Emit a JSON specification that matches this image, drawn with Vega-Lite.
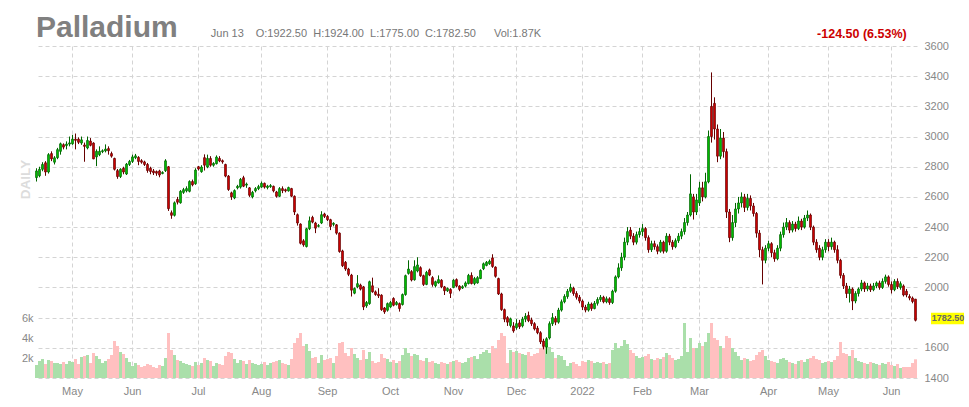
{
"$schema":"https://vega.github.io/schema/vega-lite/v6.json",
"width":882,"height":332,"autosize":"none",
"padding":{"left":35,"top":46,"right":52,"bottom":29},
"background":"#ffffff",
"config":{"view":{"stroke":null},"font":"Liberation Sans",
"axis":{"domain":false,"ticks":false,"labelFont":"Liberation Sans","labelFontSize":11,"labelColor":"#888888","gridColor":"#d4d4d4","gridDash":[4,3]}},
"data":{"values":[
{"d":"2021-04-15","o":2728,"h":2790,"l":2702,"c":2772,"v":1300},
{"d":"2021-04-16","o":2740,"h":2800,"l":2730,"c":2783,"v":1700},
{"d":"2021-04-19","o":2783,"h":2830,"l":2770,"c":2815,"v":1900},
{"d":"2021-04-20","o":2826,"h":2837,"l":2740,"c":2765,"v":1400},
{"d":"2021-04-21","o":2765,"h":2890,"l":2755,"c":2880,"v":1800},
{"d":"2021-04-22","o":2887,"h":2902,"l":2837,"c":2852,"v":1700},
{"d":"2021-04-23","o":2830,"h":2870,"l":2815,"c":2859,"v":1500},
{"d":"2021-04-26","o":2860,"h":2925,"l":2850,"c":2913,"v":1500},
{"d":"2021-04-27","o":2902,"h":2960,"l":2880,"c":2952,"v":1400},
{"d":"2021-04-28","o":2946,"h":2955,"l":2915,"c":2930,"v":1600},
{"d":"2021-04-29","o":2940,"h":2968,"l":2915,"c":2950,"v":1400},
{"d":"2021-04-30","o":2950,"h":3000,"l":2935,"c":2958,"v":1700},
{"d":"2021-05-03","o":2952,"h":3011,"l":2945,"c":2983,"v":1600},
{"d":"2021-05-04","o":2983,"h":3020,"l":2915,"c":2975,"v":1900},
{"d":"2021-05-05","o":2983,"h":2995,"l":2950,"c":2962,"v":1400},
{"d":"2021-05-06","o":2957,"h":3000,"l":2945,"c":2978,"v":2100},
{"d":"2021-05-07","o":2944,"h":2960,"l":2833,"c":2935,"v":2200},
{"d":"2021-05-10","o":2924,"h":3000,"l":2915,"c":2974,"v":2300},
{"d":"2021-05-11","o":2970,"h":2990,"l":2935,"c":2942,"v":1500},
{"d":"2021-05-12","o":2957,"h":2962,"l":2850,"c":2852,"v":2500},
{"d":"2021-05-13","o":2865,"h":2915,"l":2804,"c":2902,"v":2200},
{"d":"2021-05-14","o":2880,"h":2935,"l":2870,"c":2902,"v":1900},
{"d":"2021-05-17","o":2900,"h":2915,"l":2890,"c":2906,"v":1500},
{"d":"2021-05-18","o":2905,"h":2948,"l":2895,"c":2917,"v":1700},
{"d":"2021-05-19","o":2920,"h":2935,"l":2880,"c":2906,"v":1900},
{"d":"2021-05-20","o":2887,"h":2900,"l":2860,"c":2870,"v":2300},
{"d":"2021-05-21","o":2855,"h":2860,"l":2775,"c":2783,"v":3700},
{"d":"2021-05-24","o":2774,"h":2785,"l":2720,"c":2735,"v":3200},
{"d":"2021-05-25","o":2735,"h":2790,"l":2725,"c":2783,"v":2600},
{"d":"2021-05-26","o":2790,"h":2800,"l":2750,"c":2765,"v":2400},
{"d":"2021-05-27","o":2752,"h":2825,"l":2745,"c":2817,"v":2000},
{"d":"2021-05-28","o":2815,"h":2845,"l":2805,"c":2835,"v":1600},
{"d":"2021-06-01","o":2835,"h":2880,"l":2825,"c":2865,"v":1200},
{"d":"2021-06-02","o":2860,"h":2885,"l":2850,"c":2872,"v":1500},
{"d":"2021-06-03","o":2862,"h":2870,"l":2810,"c":2835,"v":1300},
{"d":"2021-06-04","o":2840,"h":2850,"l":2820,"c":2830,"v":1100},
{"d":"2021-06-07","o":2832,"h":2840,"l":2805,"c":2815,"v":1200},
{"d":"2021-06-08","o":2815,"h":2825,"l":2760,"c":2775,"v":1400},
{"d":"2021-06-09","o":2790,"h":2800,"l":2750,"c":2768,"v":1300},
{"d":"2021-06-10","o":2772,"h":2785,"l":2745,"c":2760,"v":1100},
{"d":"2021-06-11","o":2768,"h":2775,"l":2740,"c":2757,"v":1000},
{"d":"2021-06-14","o":2772,"h":2780,"l":2730,"c":2745,"v":1300},
{"d":"2021-06-15","o":2755,"h":2770,"l":2750,"c":2762,"v":1200},
{"d":"2021-06-16","o":2774,"h":2850,"l":2765,"c":2839,"v":2000},
{"d":"2021-06-17","o":2800,"h":2805,"l":2507,"c":2522,"v":4500},
{"d":"2021-06-18","o":2495,"h":2510,"l":2455,"c":2478,"v":2800},
{"d":"2021-06-21","o":2478,"h":2570,"l":2470,"c":2561,"v":2300},
{"d":"2021-06-22","o":2583,"h":2600,"l":2550,"c":2565,"v":1800},
{"d":"2021-06-23","o":2561,"h":2645,"l":2555,"c":2637,"v":1700},
{"d":"2021-06-24","o":2630,"h":2660,"l":2620,"c":2648,"v":1500},
{"d":"2021-06-25","o":2640,"h":2670,"l":2630,"c":2655,"v":1400},
{"d":"2021-06-28","o":2637,"h":2710,"l":2630,"c":2702,"v":1300},
{"d":"2021-06-29","o":2702,"h":2715,"l":2670,"c":2680,"v":1200},
{"d":"2021-06-30","o":2687,"h":2790,"l":2680,"c":2778,"v":1600},
{"d":"2021-07-01","o":2800,"h":2805,"l":2775,"c":2785,"v":1300},
{"d":"2021-07-02","o":2767,"h":2810,"l":2760,"c":2798,"v":1500},
{"d":"2021-07-06","o":2860,"h":2882,"l":2775,"c":2810,"v":2000},
{"d":"2021-07-07","o":2798,"h":2880,"l":2790,"c":2855,"v":1800},
{"d":"2021-07-08","o":2855,"h":2870,"l":2800,"c":2810,"v":1700},
{"d":"2021-07-09","o":2810,"h":2830,"l":2800,"c":2822,"v":1200},
{"d":"2021-07-12","o":2820,"h":2875,"l":2815,"c":2864,"v":1500},
{"d":"2021-07-13","o":2855,"h":2870,"l":2830,"c":2838,"v":1400},
{"d":"2021-07-14","o":2840,"h":2848,"l":2820,"c":2832,"v":1300},
{"d":"2021-07-15","o":2815,"h":2820,"l":2730,"c":2738,"v":2200},
{"d":"2021-07-16","o":2738,"h":2745,"l":2640,"c":2649,"v":2600},
{"d":"2021-07-19","o":2627,"h":2635,"l":2580,"c":2600,"v":2500},
{"d":"2021-07-20","o":2593,"h":2650,"l":2585,"c":2642,"v":1900},
{"d":"2021-07-21","o":2660,"h":2680,"l":2650,"c":2670,"v":1500},
{"d":"2021-07-22","o":2665,"h":2725,"l":2655,"c":2716,"v":1800},
{"d":"2021-07-23","o":2727,"h":2740,"l":2665,"c":2671,"v":1700},
{"d":"2021-07-26","o":2678,"h":2695,"l":2660,"c":2685,"v":1400},
{"d":"2021-07-27","o":2660,"h":2665,"l":2600,"c":2611,"v":1800},
{"d":"2021-07-28","o":2600,"h":2640,"l":2590,"c":2630,"v":1500},
{"d":"2021-07-29","o":2640,"h":2665,"l":2630,"c":2655,"v":1400},
{"d":"2021-07-30","o":2655,"h":2680,"l":2645,"c":2668,"v":1300},
{"d":"2021-08-02","o":2665,"h":2702,"l":2660,"c":2690,"v":1400},
{"d":"2021-08-03","o":2690,"h":2695,"l":2655,"c":2665,"v":1600},
{"d":"2021-08-04","o":2662,"h":2680,"l":2650,"c":2672,"v":1300},
{"d":"2021-08-05","o":2668,"h":2685,"l":2660,"c":2675,"v":1500},
{"d":"2021-08-06","o":2670,"h":2675,"l":2630,"c":2640,"v":1600},
{"d":"2021-08-09","o":2633,"h":2640,"l":2595,"c":2604,"v":1700},
{"d":"2021-08-10","o":2604,"h":2665,"l":2600,"c":2655,"v":1800},
{"d":"2021-08-11","o":2655,"h":2670,"l":2625,"c":2642,"v":1500},
{"d":"2021-08-12","o":2648,"h":2655,"l":2630,"c":2640,"v":1400},
{"d":"2021-08-13","o":2640,"h":2668,"l":2635,"c":2662,"v":1300},
{"d":"2021-08-16","o":2655,"h":2660,"l":2600,"c":2605,"v":1900},
{"d":"2021-08-17","o":2604,"h":2610,"l":2480,"c":2500,"v":3500},
{"d":"2021-08-18","o":2482,"h":2490,"l":2410,"c":2427,"v":4000},
{"d":"2021-08-19","o":2420,"h":2425,"l":2285,"c":2293,"v":4500},
{"d":"2021-08-20","o":2309,"h":2320,"l":2270,"c":2282,"v":3200},
{"d":"2021-08-23","o":2271,"h":2395,"l":2265,"c":2389,"v":3400},
{"d":"2021-08-24","o":2389,"h":2470,"l":2380,"c":2442,"v":2700},
{"d":"2021-08-25","o":2464,"h":2475,"l":2425,"c":2433,"v":2000},
{"d":"2021-08-26","o":2427,"h":2435,"l":2360,"c":2393,"v":2100},
{"d":"2021-08-27","o":2405,"h":2420,"l":2398,"c":2410,"v":1500},
{"d":"2021-08-30","o":2427,"h":2505,"l":2420,"c":2482,"v":2300},
{"d":"2021-08-31","o":2487,"h":2495,"l":2460,"c":2471,"v":1800},
{"d":"2021-09-01","o":2471,"h":2480,"l":2440,"c":2449,"v":1900},
{"d":"2021-09-02","o":2449,"h":2455,"l":2380,"c":2404,"v":2000},
{"d":"2021-09-03","o":2418,"h":2432,"l":2405,"c":2425,"v":1500},
{"d":"2021-09-07","o":2415,"h":2420,"l":2350,"c":2360,"v":2200},
{"d":"2021-09-08","o":2360,"h":2365,"l":2230,"c":2238,"v":3500},
{"d":"2021-09-09","o":2242,"h":2250,"l":2135,"c":2144,"v":3600},
{"d":"2021-09-10","o":2167,"h":2175,"l":2110,"c":2122,"v":2500},
{"d":"2021-09-13","o":2122,"h":2130,"l":2075,"c":2087,"v":2200},
{"d":"2021-09-14","o":2082,"h":2090,"l":1940,"c":1982,"v":3000},
{"d":"2021-09-15","o":1962,"h":2000,"l":1955,"c":1993,"v":2400},
{"d":"2021-09-16","o":2004,"h":2082,"l":1995,"c":2025,"v":2000},
{"d":"2021-09-17","o":2016,"h":2025,"l":1980,"c":1989,"v":1800},
{"d":"2021-09-20","o":2004,"h":2010,"l":1850,"c":1871,"v":2800},
{"d":"2021-09-21","o":1878,"h":1910,"l":1865,"c":1900,"v":1900},
{"d":"2021-09-22","o":1893,"h":2045,"l":1885,"c":2038,"v":2600},
{"d":"2021-09-23","o":2011,"h":2065,"l":1965,"c":1971,"v":1700},
{"d":"2021-09-24","o":1971,"h":1980,"l":1945,"c":1953,"v":1500},
{"d":"2021-09-27","o":1955,"h":1995,"l":1930,"c":1945,"v":1600},
{"d":"2021-09-28","o":1949,"h":1955,"l":1845,"c":1853,"v":2400},
{"d":"2021-09-29","o":1864,"h":1870,"l":1825,"c":1838,"v":2000},
{"d":"2021-09-30","o":1849,"h":1900,"l":1840,"c":1893,"v":1900},
{"d":"2021-10-01","o":1871,"h":1910,"l":1865,"c":1900,"v":1600},
{"d":"2021-10-04","o":1927,"h":1935,"l":1875,"c":1882,"v":1800},
{"d":"2021-10-05","o":1887,"h":1910,"l":1880,"c":1900,"v":1500},
{"d":"2021-10-06","o":1893,"h":1900,"l":1840,"c":1860,"v":1700},
{"d":"2021-10-07","o":1887,"h":1960,"l":1880,"c":1953,"v":2300},
{"d":"2021-10-08","o":1953,"h":2085,"l":1945,"c":2078,"v":3000},
{"d":"2021-10-11","o":2093,"h":2180,"l":2085,"c":2122,"v":2500},
{"d":"2021-10-12","o":2105,"h":2115,"l":2040,"c":2049,"v":2200},
{"d":"2021-10-13","o":2051,"h":2180,"l":2045,"c":2138,"v":2400},
{"d":"2021-10-14","o":2109,"h":2200,"l":2100,"c":2149,"v":2300},
{"d":"2021-10-15","o":2131,"h":2140,"l":2070,"c":2078,"v":1800},
{"d":"2021-10-18","o":2078,"h":2085,"l":2010,"c":2020,"v":1700},
{"d":"2021-10-19","o":2020,"h":2110,"l":2015,"c":2100,"v":2000},
{"d":"2021-10-20","o":2116,"h":2125,"l":2075,"c":2082,"v":1600},
{"d":"2021-10-21","o":2065,"h":2075,"l":2005,"c":2020,"v":1700},
{"d":"2021-10-22","o":2011,"h":2045,"l":2000,"c":2038,"v":1500},
{"d":"2021-10-25","o":2030,"h":2080,"l":2025,"c":2052,"v":1400},
{"d":"2021-10-26","o":2048,"h":2055,"l":1995,"c":2004,"v":1600},
{"d":"2021-10-27","o":2004,"h":2010,"l":1950,"c":1978,"v":1500},
{"d":"2021-10-28","o":1978,"h":2000,"l":1970,"c":1993,"v":1400},
{"d":"2021-10-29","o":1987,"h":1995,"l":1930,"c":1961,"v":1600},
{"d":"2021-11-01","o":2000,"h":2055,"l":1995,"c":2048,"v":1700},
{"d":"2021-11-02","o":2052,"h":2060,"l":2000,"c":2009,"v":1800},
{"d":"2021-11-03","o":2009,"h":2015,"l":1975,"c":1987,"v":1600},
{"d":"2021-11-04","o":1996,"h":2015,"l":1990,"c":2005,"v":1500},
{"d":"2021-11-05","o":2009,"h":2040,"l":2000,"c":2030,"v":1600},
{"d":"2021-11-08","o":2026,"h":2090,"l":2020,"c":2080,"v":2000},
{"d":"2021-11-09","o":2080,"h":2100,"l":2020,"c":2026,"v":2100},
{"d":"2021-11-10","o":2026,"h":2070,"l":2015,"c":2059,"v":2200},
{"d":"2021-11-11","o":2030,"h":2075,"l":2025,"c":2065,"v":1900},
{"d":"2021-11-12","o":2059,"h":2120,"l":2055,"c":2113,"v":2400},
{"d":"2021-11-15","o":2124,"h":2165,"l":2115,"c":2157,"v":2600},
{"d":"2021-11-16","o":2146,"h":2175,"l":2140,"c":2167,"v":2800},
{"d":"2021-11-17","o":2157,"h":2185,"l":2150,"c":2174,"v":2500},
{"d":"2021-11-18","o":2196,"h":2220,"l":2130,"c":2139,"v":3200},
{"d":"2021-11-19","o":2135,"h":2140,"l":2065,"c":2074,"v":2900},
{"d":"2021-11-22","o":2059,"h":2065,"l":1950,"c":1957,"v":3800},
{"d":"2021-11-23","o":1957,"h":1965,"l":1845,"c":1853,"v":4500},
{"d":"2021-11-24","o":1853,"h":1860,"l":1770,"c":1790,"v":4200},
{"d":"2021-11-26","o":1800,"h":1810,"l":1745,"c":1770,"v":1500},
{"d":"2021-11-29","o":1748,"h":1800,"l":1735,"c":1792,"v":2800},
{"d":"2021-11-30","o":1745,"h":1770,"l":1700,"c":1712,"v":2600},
{"d":"2021-12-01","o":1733,"h":1790,"l":1720,"c":1760,"v":2700},
{"d":"2021-12-02","o":1765,"h":1785,"l":1725,"c":1740,"v":2500},
{"d":"2021-12-03","o":1745,"h":1805,"l":1735,"c":1790,"v":2400},
{"d":"2021-12-06","o":1790,"h":1830,"l":1770,"c":1810,"v":2300},
{"d":"2021-12-07","o":1815,"h":1840,"l":1770,"c":1780,"v":2600},
{"d":"2021-12-08","o":1785,"h":1800,"l":1745,"c":1760,"v":2200},
{"d":"2021-12-09","o":1760,"h":1770,"l":1715,"c":1725,"v":2400},
{"d":"2021-12-10","o":1730,"h":1745,"l":1690,"c":1700,"v":2500},
{"d":"2021-12-13","o":1700,"h":1710,"l":1625,"c":1640,"v":3000},
{"d":"2021-12-14","o":1645,"h":1660,"l":1590,"c":1610,"v":3200},
{"d":"2021-12-15","o":1605,"h":1670,"l":1560,"c":1660,"v":3500},
{"d":"2021-12-16","o":1665,"h":1775,"l":1655,"c":1760,"v":3100},
{"d":"2021-12-17","o":1760,"h":1830,"l":1745,"c":1800,"v":2600},
{"d":"2021-12-20","o":1795,"h":1810,"l":1750,"c":1770,"v":2000},
{"d":"2021-12-21","o":1770,"h":1865,"l":1760,"c":1850,"v":2300},
{"d":"2021-12-22","o":1850,"h":1920,"l":1840,"c":1905,"v":2200},
{"d":"2021-12-23","o":1905,"h":1955,"l":1895,"c":1940,"v":1800},
{"d":"2021-12-27","o":1940,"h":1990,"l":1925,"c":1975,"v":1200},
{"d":"2021-12-28","o":1975,"h":2025,"l":1965,"c":2000,"v":1500},
{"d":"2021-12-29","o":1995,"h":2005,"l":1945,"c":1960,"v":1600},
{"d":"2021-12-30","o":1960,"h":1975,"l":1920,"c":1935,"v":1400},
{"d":"2021-12-31","o":1935,"h":1950,"l":1895,"c":1910,"v":1200},
{"d":"2022-01-03","o":1910,"h":1920,"l":1850,"c":1870,"v":1700},
{"d":"2022-01-04","o":1870,"h":1885,"l":1835,"c":1850,"v":1600},
{"d":"2022-01-05","o":1850,"h":1905,"l":1840,"c":1890,"v":1800},
{"d":"2022-01-06","o":1890,"h":1900,"l":1845,"c":1860,"v":1700},
{"d":"2022-01-07","o":1860,"h":1910,"l":1855,"c":1895,"v":1500},
{"d":"2022-01-10","o":1895,"h":1935,"l":1880,"c":1920,"v":1600},
{"d":"2022-01-11","o":1920,"h":1950,"l":1905,"c":1935,"v":1500},
{"d":"2022-01-12","o":1935,"h":1945,"l":1895,"c":1905,"v":1600},
{"d":"2022-01-13","o":1905,"h":1940,"l":1895,"c":1925,"v":1400},
{"d":"2022-01-14","o":1925,"h":1935,"l":1885,"c":1900,"v":1500},
{"d":"2022-01-18","o":1900,"h":1985,"l":1890,"c":1975,"v":2800},
{"d":"2022-01-19","o":1975,"h":2080,"l":1965,"c":2070,"v":3500},
{"d":"2022-01-20","o":2070,"h":2160,"l":2060,"c":2130,"v":3000},
{"d":"2022-01-21","o":2130,"h":2230,"l":2110,"c":2200,"v":3200},
{"d":"2022-01-24","o":2200,"h":2330,"l":2180,"c":2300,"v":3800},
{"d":"2022-01-25","o":2300,"h":2400,"l":2280,"c":2370,"v":3400},
{"d":"2022-01-26","o":2380,"h":2400,"l":2320,"c":2340,"v":2800},
{"d":"2022-01-27","o":2340,"h":2360,"l":2280,"c":2300,"v":2500},
{"d":"2022-01-28","o":2300,"h":2370,"l":2285,"c":2350,"v":2200},
{"d":"2022-01-31","o":2350,"h":2395,"l":2330,"c":2370,"v":2000},
{"d":"2022-02-01","o":2370,"h":2420,"l":2340,"c":2390,"v":2100},
{"d":"2022-02-02","o":2390,"h":2400,"l":2310,"c":2330,"v":2200},
{"d":"2022-02-03","o":2330,"h":2345,"l":2230,"c":2250,"v":2400},
{"d":"2022-02-04","o":2250,"h":2310,"l":2235,"c":2290,"v":1900},
{"d":"2022-02-07","o":2290,"h":2310,"l":2250,"c":2270,"v":1800},
{"d":"2022-02-08","o":2270,"h":2285,"l":2220,"c":2240,"v":2000},
{"d":"2022-02-09","o":2240,"h":2315,"l":2230,"c":2300,"v":1900},
{"d":"2022-02-10","o":2300,"h":2310,"l":2225,"c":2240,"v":2100},
{"d":"2022-02-11","o":2240,"h":2360,"l":2230,"c":2340,"v":2500},
{"d":"2022-02-14","o":2340,"h":2355,"l":2280,"c":2300,"v":2300},
{"d":"2022-02-15","o":2300,"h":2315,"l":2250,"c":2270,"v":2000},
{"d":"2022-02-16","o":2270,"h":2325,"l":2260,"c":2310,"v":1800},
{"d":"2022-02-17","o":2310,"h":2360,"l":2295,"c":2340,"v":1900},
{"d":"2022-02-18","o":2340,"h":2390,"l":2320,"c":2370,"v":2200},
{"d":"2022-02-22","o":2370,"h":2460,"l":2350,"c":2430,"v":5500},
{"d":"2022-02-23","o":2430,"h":2500,"l":2410,"c":2480,"v":2600},
{"d":"2022-02-24","o":2480,"h":2750,"l":2470,"c":2620,"v":4000},
{"d":"2022-02-25","o":2600,"h":2620,"l":2450,"c":2500,"v":3000},
{"d":"2022-02-28","o":2500,"h":2620,"l":2480,"c":2580,"v":3000},
{"d":"2022-03-01","o":2560,"h":2700,"l":2540,"c":2660,"v":3500},
{"d":"2022-03-02","o":2660,"h":2700,"l":2570,"c":2600,"v":3200},
{"d":"2022-03-03","o":2600,"h":2760,"l":2590,"c":2700,"v":3600},
{"d":"2022-03-04","o":2700,"h":3040,"l":2690,"c":3000,"v":4500},
{"d":"2022-03-07","o":3200,"h":3425,"l":2960,"c":3000,"v":5500},
{"d":"2022-03-08","o":3220,"h":3260,"l":2980,"c":3050,"v":4000},
{"d":"2022-03-09","o":3050,"h":3080,"l":2830,"c":2870,"v":3800},
{"d":"2022-03-10","o":2870,"h":3050,"l":2850,"c":2990,"v":3200},
{"d":"2022-03-11","o":2990,"h":3030,"l":2860,"c":2900,"v":3000},
{"d":"2022-03-14","o":2900,"h":2920,"l":2460,"c":2500,"v":4200},
{"d":"2022-03-15","o":2500,"h":2520,"l":2300,"c":2330,"v":4000},
{"d":"2022-03-16","o":2330,"h":2480,"l":2310,"c":2430,"v":3000},
{"d":"2022-03-17","o":2430,"h":2560,"l":2400,"c":2520,"v":2600},
{"d":"2022-03-18","o":2520,"h":2600,"l":2490,"c":2560,"v":2200},
{"d":"2022-03-21","o":2560,"h":2630,"l":2530,"c":2600,"v":1800},
{"d":"2022-03-22","o":2600,"h":2620,"l":2500,"c":2530,"v":2000},
{"d":"2022-03-23","o":2530,"h":2620,"l":2510,"c":2590,"v":1900},
{"d":"2022-03-24","o":2590,"h":2610,"l":2510,"c":2540,"v":1700},
{"d":"2022-03-25","o":2540,"h":2560,"l":2470,"c":2490,"v":1800},
{"d":"2022-03-28","o":2490,"h":2500,"l":2330,"c":2360,"v":2300},
{"d":"2022-03-29","o":2360,"h":2380,"l":2200,"c":2250,"v":2600},
{"d":"2022-03-30","o":2250,"h":2270,"l":2020,"c":2180,"v":2800},
{"d":"2022-03-31","o":2180,"h":2280,"l":2160,"c":2260,"v":2200},
{"d":"2022-04-01","o":2260,"h":2310,"l":2240,"c":2290,"v":1800},
{"d":"2022-04-04","o":2290,"h":2300,"l":2200,"c":2230,"v":1700},
{"d":"2022-04-05","o":2230,"h":2250,"l":2170,"c":2190,"v":1600},
{"d":"2022-04-06","o":2190,"h":2280,"l":2180,"c":2260,"v":1500},
{"d":"2022-04-07","o":2260,"h":2370,"l":2240,"c":2350,"v":1900},
{"d":"2022-04-08","o":2350,"h":2430,"l":2330,"c":2400,"v":2000},
{"d":"2022-04-11","o":2400,"h":2460,"l":2380,"c":2430,"v":1800},
{"d":"2022-04-12","o":2430,"h":2445,"l":2360,"c":2380,"v":1600},
{"d":"2022-04-13","o":2380,"h":2440,"l":2365,"c":2420,"v":1500},
{"d":"2022-04-14","o":2420,"h":2435,"l":2370,"c":2390,"v":1400},
{"d":"2022-04-18","o":2390,"h":2470,"l":2380,"c":2440,"v":1700},
{"d":"2022-04-19","o":2440,"h":2455,"l":2380,"c":2400,"v":1800},
{"d":"2022-04-20","o":2400,"h":2480,"l":2390,"c":2460,"v":1600},
{"d":"2022-04-21","o":2460,"h":2510,"l":2440,"c":2480,"v":1900},
{"d":"2022-04-22","o":2480,"h":2490,"l":2380,"c":2400,"v":2000},
{"d":"2022-04-25","o":2400,"h":2410,"l":2280,"c":2300,"v":2200},
{"d":"2022-04-26","o":2300,"h":2320,"l":2230,"c":2250,"v":1900},
{"d":"2022-04-27","o":2260,"h":2280,"l":2180,"c":2200,"v":1800},
{"d":"2022-04-28","o":2200,"h":2270,"l":2180,"c":2250,"v":1500},
{"d":"2022-04-29","o":2250,"h":2320,"l":2230,"c":2300,"v":1600},
{"d":"2022-05-02","o":2300,"h":2320,"l":2240,"c":2270,"v":1700},
{"d":"2022-05-03","o":2270,"h":2330,"l":2250,"c":2300,"v":1600},
{"d":"2022-05-04","o":2300,"h":2310,"l":2230,"c":2250,"v":1800},
{"d":"2022-05-05","o":2250,"h":2280,"l":2160,"c":2180,"v":2200},
{"d":"2022-05-06","o":2180,"h":2190,"l":2060,"c":2080,"v":3600},
{"d":"2022-05-09","o":2080,"h":2095,"l":1990,"c":2010,"v":2500},
{"d":"2022-05-10","o":2010,"h":2030,"l":1930,"c":1960,"v":2400},
{"d":"2022-05-11","o":1960,"h":2010,"l":1900,"c":1990,"v":2200},
{"d":"2022-05-12","o":1990,"h":2000,"l":1850,"c":1910,"v":2800},
{"d":"2022-05-13","o":1910,"h":1975,"l":1895,"c":1960,"v":2000},
{"d":"2022-05-16","o":1960,"h":2000,"l":1940,"c":1990,"v":1700},
{"d":"2022-05-17","o":1990,"h":2050,"l":1975,"c":2030,"v":1600},
{"d":"2022-05-18","o":2030,"h":2040,"l":1970,"c":1990,"v":1500},
{"d":"2022-05-19","o":1990,"h":2030,"l":1975,"c":2010,"v":1400},
{"d":"2022-05-20","o":2010,"h":2025,"l":1970,"c":1985,"v":1600},
{"d":"2022-05-23","o":1985,"h":2030,"l":1975,"c":2010,"v":1500},
{"d":"2022-05-24","o":2010,"h":2040,"l":1995,"c":2030,"v":1400},
{"d":"2022-05-25","o":2030,"h":2045,"l":1985,"c":2000,"v":1300},
{"d":"2022-05-26","o":2000,"h":2060,"l":1990,"c":2040,"v":1500},
{"d":"2022-05-27","o":2040,"h":2085,"l":2025,"c":2070,"v":1400},
{"d":"2022-05-31","o":2070,"h":2080,"l":2005,"c":2020,"v":1600},
{"d":"2022-06-01","o":2020,"h":2040,"l":1960,"c":1985,"v":1300},
{"d":"2022-06-02","o":1985,"h":2055,"l":1975,"c":2040,"v":1200},
{"d":"2022-06-03","o":2040,"h":2060,"l":1990,"c":2005,"v":1400},
{"d":"2022-06-06","o":2000,"h":2040,"l":1985,"c":2025,"v":1000},
{"d":"2022-06-07","o":2010,"h":2020,"l":1940,"c":1950,"v":1100},
{"d":"2022-06-08","o":1975,"h":1990,"l":1935,"c":1950,"v":1100},
{"d":"2022-06-09","o":1940,"h":1955,"l":1915,"c":1930,"v":1100},
{"d":"2022-06-10","o":1930,"h":1940,"l":1895,"c":1907,"v":1500},
{"d":"2022-06-13","o":1922.5,"h":1924,"l":1775,"c":1782.5,"v":1870}
]},
"encoding":{"x":{"field":"d","type":"ordinal","sort":"ascending","scale":{"type":"band","paddingInner":0,"paddingOuter":0},
"axis":{"title":null,"values":["2021-05-03","2021-06-01","2021-07-01","2021-08-02","2021-09-01","2021-10-01","2021-11-01","2021-12-01","2022-01-03","2022-02-01","2022-03-01","2022-04-01","2022-05-02","2022-06-01"],
"labelExpr":"utcmonth(toDate(datum.value)) == 0 ? utcFormat(toDate(datum.value), '%Y') : utcFormat(toDate(datum.value), '%b')",
"grid":true,"bandPosition":0.5,"labelPadding":7,"labelAngle":0,"labelOverlap":false}}},
"layer":[
{"mark":{"type":"bar"},
 "encoding":{"y":{"field":"v","type":"quantitative","scale":{"domain":[0,33200],"nice":false,"zero":true},
  "axis":{"orient":"left","values":[2000,4000,6000],"labelExpr":"(datum.value/1000) + 'k'","grid":false,"labelPadding":2,"labelOverlap":false,
   "title":"DAILY","titleX":-10,"titleY":133,"titleAngle":270,"titleAlign":"center","titleBaseline":"middle","titleColor":"#dcdcdc","titleFontSize":13.5,"titleFontWeight":"bold","titleFont":"Liberation Sans"}},
  "color":{"condition":{"test":"datum.c >= datum.o","value":"#aadfaa"},"value":"#ffc0c0"}}},
{"mark":{"type":"rule","strokeWidth":1},
 "encoding":{"y":{"field":"l","type":"quantitative","scale":{"domain":[1400,3600],"nice":false,"zero":false},
   "axis":{"orient":"right","title":null,"values":[1400,1600,1800,2000,2200,2400,2600,2800,3000,3200,3400,3600],"labelExpr":"datum.value == 1800 ? '' : format(datum.value, 'd')","grid":true,"labelPadding":7,"labelOverlap":false,"labelBound":false,"labelFlush":false}},
  "y2":{"field":"h"},
  "color":{"condition":{"test":"datum.c >= datum.o","value":"#006600"},"value":"#660000"}}},
{"mark":{"type":"bar","width":1.8,"strokeWidth":0.8},
 "encoding":{"y":{"field":"o","type":"quantitative","scale":{"domain":[1400,3600],"nice":false,"zero":false},"axis":null},"y2":{"field":"c"},
  "fill":{"condition":{"test":"datum.c >= datum.o","value":"#00cc00"},"value":"#dd0000"},
  "stroke":{"condition":{"test":"datum.c >= datum.o","value":"#006600"},"value":"#660000"}}},
{"transform":[{"filter":"datum.d == '2022-06-13'"}],
 "mark":{"type":"bar","width":33,"xOffset":32,"yOffset":-7.6,"y2Offset":4,"color":"#ffff00"},
 "encoding":{"y":{"field":"c","type":"quantitative","scale":{"domain":[1400,3600],"nice":false,"zero":false},"axis":null},"y2":{"field":"c"}}},
{"transform":[{"filter":"datum.d == '2022-06-13'"}],
 "mark":{"type":"text","align":"left","baseline":"middle","dx":16.2,"dy":-1.8,"fontSize":9,"fontWeight":"bold","color":"#666666"},
 "encoding":{"y":{"field":"c","type":"quantitative","scale":{"domain":[1400,3600],"nice":false,"zero":false},"axis":null},"text":{"field":"c","type":"quantitative","format":".2f"}}},
{"data":{"values":[{}]},
 "mark":{"type":"text","text":"Palladium","align":"left","baseline":"alphabetic","dx":-0.5,"dy":-8.7,"fontSize":30,"fontWeight":"bold","color":"#808080"},
 "encoding":{"x":{"datum":"2021-04-15","type":"ordinal"},"y":{"datum":3600,"type":"quantitative","scale":{"domain":[1400,3600],"nice":false,"zero":false},"axis":null}}},
{"data":{"values":[{}]},
 "mark":{"type":"text","text":"Jun 13","align":"left","baseline":"alphabetic","dx":174.3,"dy":-8.7,"fontSize":11,"color":"#777777"},
 "encoding":{"x":{"datum":"2021-04-15","type":"ordinal"},"y":{"datum":3600,"type":"quantitative","scale":{"domain":[1400,3600],"nice":false,"zero":false},"axis":null}}},
{"data":{"values":[{}]},
 "mark":{"type":"text","text":"O:1922.50\u00a0 H:1924.00\u00a0 L:1775.00\u00a0 C:1782.50","align":"left","baseline":"alphabetic","dx":219.2,"dy":-8.7,"fontSize":11,"color":"#777777"},
 "encoding":{"x":{"datum":"2021-04-15","type":"ordinal"},"y":{"datum":3600,"type":"quantitative","scale":{"domain":[1400,3600],"nice":false,"zero":false},"axis":null}}},
{"data":{"values":[{}]},
 "mark":{"type":"text","text":"Vol:1.87K","align":"left","baseline":"alphabetic","dx":457.5,"dy":-8.7,"fontSize":11,"color":"#777777"},
 "encoding":{"x":{"datum":"2021-04-15","type":"ordinal"},"y":{"datum":3600,"type":"quantitative","scale":{"domain":[1400,3600],"nice":false,"zero":false},"axis":null}}},
{"data":{"values":[{}]},
 "mark":{"type":"text","text":"-124.50 (6.53%)","align":"right","baseline":"alphabetic","dx":-8.8,"dy":-8.5,"fontSize":12.5,"fontWeight":"bold","color":"#cc0000"},
 "encoding":{"x":{"datum":"2022-06-13","type":"ordinal"},"y":{"datum":3600,"type":"quantitative","scale":{"domain":[1400,3600],"nice":false,"zero":false},"axis":null}}}
],
"resolve":{"scale":{"y":"independent"},"axis":{"y":"independent"}}
}
